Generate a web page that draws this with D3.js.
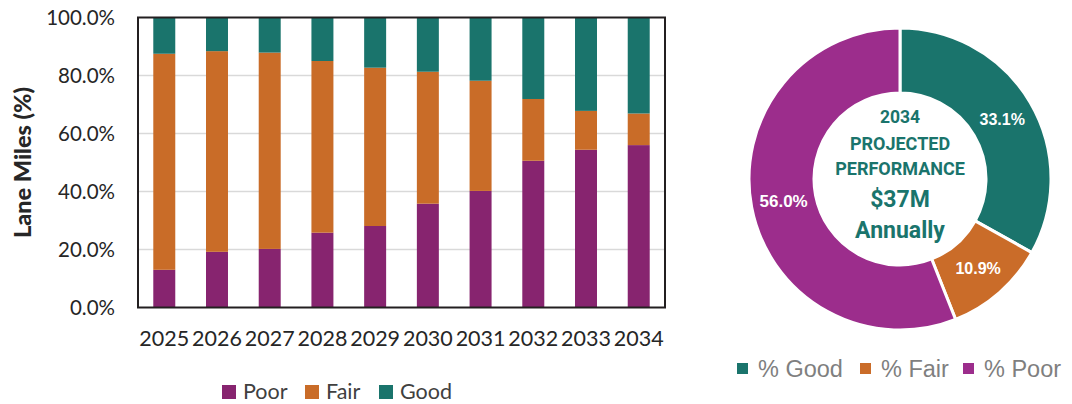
<!DOCTYPE html>
<html>
<head>
<meta charset="utf-8">
<script src="https://cdn.jsdelivr.net/npm/d3@7"></script>
<style>
  html, body { margin: 0; padding: 0; background: #fff; }
  svg { display: block; }
</style>
</head>
<body>
<svg id="chart" width="1072" height="404"></svg>
<script>
// ---- Data ----
const years = ["2025","2026","2027","2028","2029","2030","2031","2032","2033","2034"];
const poor = [13.0, 19.2, 20.2, 25.8, 28.1, 35.8, 40.2, 50.6, 54.4, 56.0];
const fair = [74.5, 69.2, 67.7, 59.2, 54.6, 45.5, 38.0, 21.3, 13.4, 10.9];
const good = [12.5, 11.6, 12.1, 15.0, 17.3, 18.7, 21.8, 28.1, 32.2, 33.1];
const seriesNames = ["Poor", "Fair", "Good"];
const yTicks = [0, 20, 40, 60, 80, 100];

const pieLabels = ["% Good", "% Fair", "% Poor"];
const pieValues = [33.1, 10.9, 56.0];
const centerLines = ["2034", "PROJECTED", "PERFORMANCE", "$37M", "Annually"];

// ---- Styles ----
const barColors = { Poor: "#87246F", Fair: "#C96C28", Good: "#1A746C" };
const pieColors = ["#1A746C", "#CA6C29", "#9C2D8C"];

const svg = d3.select("#chart");

// ---- Bar chart ----
const plot = { left: 138, right: 665, top: 17.5, bottom: 307.5 };
const x = d3.scaleBand().domain(years).range([plot.left, plot.right])
  .paddingInner(0.583).paddingOuter(0.29);
const y = d3.scaleLinear().domain([0, 100]).range([plot.bottom, plot.top]);

// gridlines
svg.append("g").selectAll("line").data(yTicks.filter(t => t > 0 && t < 100)).join("line")
  .attr("x1", plot.left).attr("x2", plot.right)
  .attr("y1", d => y(d)).attr("y2", d => y(d))
  .attr("stroke", "#d9d9d9").attr("stroke-width", 1.5);

// stacked bars
const rows = years.map((yr, i) => ({ year: yr, Poor: poor[i], Fair: fair[i], Good: good[i] }));
const stack = d3.stack().keys(seriesNames)(rows);
svg.append("g").selectAll("g").data(stack).join("g")
  .attr("fill", d => barColors[d.key])
  .selectAll("rect").data(d => d).join("rect")
  .attr("x", d => x(d.data.year))
  .attr("width", x.bandwidth())
  .attr("y", d => y(Math.min(d[1], 100)))
  .attr("height", d => y(d[0]) - y(Math.min(d[1], 100)));

// frame
svg.append("rect")
  .attr("x", plot.left).attr("y", plot.top)
  .attr("width", plot.right - plot.left).attr("height", plot.bottom - plot.top)
  .attr("fill", "none").attr("stroke", "#231f20").attr("stroke-width", 2);

// y axis labels
const yAxis = d3.axisLeft(y).tickValues(yTicks).tickSize(0).tickPadding(0)
  .tickFormat(d => d3.format(".1f")(d) + "%");
const yg = svg.append("g").attr("transform", `translate(115,0)`).call(yAxis);
yg.select(".domain").remove();
yg.selectAll("text").attr("font-family", "Lato, sans-serif").attr("font-size", 20.5)
  .attr("fill", "#262626").attr("dy", "0.35em");

// x axis labels
const xAxis = d3.axisBottom(x).tickSize(0).tickPadding(0);
const xg = svg.append("g").attr("transform", `translate(0,330)`).call(xAxis);
xg.select(".domain").remove();
xg.selectAll("text").attr("font-family", "Lato, sans-serif").attr("font-size", 21.5)
  .attr("fill", "#262626").attr("dy", "0.75em");

// y axis title
svg.append("text")
  .attr("transform", "translate(31,162.5) rotate(-90)")
  .attr("text-anchor", "middle")
  .attr("font-family", "Lato, sans-serif").attr("font-weight", 900)
  .attr("font-size", 23.5).attr("fill", "#262626")
  .text("Lane Miles (%)");

// bar legend
const legX = [222, 305, 379];
const lg = svg.append("g").selectAll("g").data(seriesNames).join("g")
  .attr("transform", (d, i) => `translate(${legX[i]},385)`);
lg.append("rect").attr("width", 14).attr("height", 14).attr("fill", d => barColors[d]);
lg.append("text").attr("x", 21).attr("y", 13.5)
  .attr("font-family", "Lato, sans-serif").attr("font-size", 21.5).attr("fill", "#404040")
  .text(d => d);

// ---- Donut ----
const cx = 900, cy = 179, rOuter = 151, rInner = 86;
const pie = d3.pie().sort(null).value(d => d)(pieValues);
const arc = d3.arc().innerRadius(rInner).outerRadius(rOuter);
const pg = svg.append("g").attr("transform", `translate(${cx},${cy})`);
pg.selectAll("path").data(pie).join("path")
  .attr("d", arc)
  .attr("fill", (d, i) => pieColors[i])
  .attr("stroke", "#fff").attr("stroke-width", 3).attr("stroke-linejoin", "miter");

const labelArc = d3.arc().innerRadius((rInner + rOuter) / 2).outerRadius((rInner + rOuter) / 2);
pg.selectAll("text.pl").data(pie).join("text").attr("class", "pl")
  .attr("transform", d => { const c = labelArc.centroid(d); return `translate(${c[0]},${c[1]})`; })
  .attr("text-anchor", "middle").attr("dy", "0.35em")
  .attr("font-family", "'Liberation Sans', Arial, sans-serif").attr("font-weight", "bold")
  .attr("font-size", (d, i) => i === 2 ? 17 : 16).attr("fill", "#fff")
  .text(d => d3.format(".1f")(d.data) + "%");

// center text
const centerY = [122.5, 150, 175, 207, 238];
const centerSize = [17.5, 18, 18, 23, 23];
pg.selectAll("text.ct").data(centerLines).join("text").attr("class", "ct")
  .attr("x", 0).attr("y", (d, i) => centerY[i] - cy)
  .attr("text-anchor", "middle")
  .attr("font-family", "Roboto, sans-serif").attr("font-weight", "bold")
  .attr("font-size", (d, i) => centerSize[i]).attr("fill", "#1A746C")
  .text(d => d);

// pie legend
const pLegX = [737, 860, 963];
const plg = svg.append("g").selectAll("g").data(pieLabels).join("g")
  .attr("transform", (d, i) => `translate(${pLegX[i]},363)`);
plg.append("rect").attr("width", 11).attr("height", 11).attr("fill", (d, i) => pieColors[i]);
plg.append("text").attr("x", 21).attr("y", 14)
  .attr("font-family", "'Liberation Sans', Arial, sans-serif").attr("font-size", 23.5)
  .attr("fill", "#7f7f7f")
  .text(d => d);
</script>
</body>
</html>
